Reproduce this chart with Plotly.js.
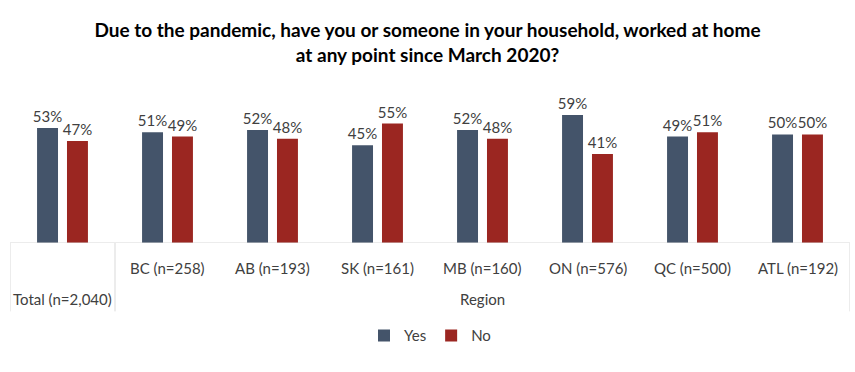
<!DOCTYPE html>
<html>
<head>
<meta charset="utf-8">
<script src="https://cdn.plot.ly/plotly-3.0.1.min.js"></script>
<style>html,body{margin:0;padding:0;background:#fff;}</style>
</head>
<body>
<div id="chart" style="width:855px;height:372px;"></div>
<script>
var categories = ["Total (n=2,040)", "BC (n=258)", "AB (n=193)", "SK (n=161)", "MB (n=160)", "ON (n=576)", "QC (n=500)", "ATL (n=192)"];
var yesValues = [53, 51, 52, 45, 52, 59, 49, 50];
var noValues = [47, 49, 48, 55, 48, 41, 51, 50];
var groupLabel = "Region";
var seriesNames = ["Yes", "No"];

var FONT = "Lato, 'Open Sans', sans-serif";
var idx = categories.map(function(_, i){ return i; });

var traces = [
  {type: "bar", name: seriesNames[0], x: idx, y: yesValues,
   marker: {color: "#44546A"},
   text: yesValues.map(function(v){return v + "%";}), textposition: "outside", constraintext: "none",
   textfont: {family: FONT, size: 15, color: "#404040"}, cliponaxis: false, hoverinfo: "none"},
  {type: "bar", name: seriesNames[1], x: idx, y: noValues,
   marker: {color: "#9B2621"},
   text: noValues.map(function(v){return v + "%";}), textposition: "outside", constraintext: "none",
   textfont: {family: FONT, size: 15, color: "#404040"}, cliponaxis: false, hoverinfo: "none"}
];

var lineStyle = {color: "#d9d9d9", width: 1};
var shapes = [
  {type: "line", xref: "x", yref: "y", x0: -0.5, x1: categories.length - 0.5, y0: 0, y1: 0, line: lineStyle},
  {type: "line", xref: "x", yref: "paper", x0: -0.5, x1: -0.5, y0: 0, y1: -0.45, line: lineStyle},
  {type: "line", xref: "x", yref: "paper", x0: 0.5, x1: 0.5, y0: 0, y1: -0.45, line: lineStyle},
  {type: "line", xref: "x", yref: "paper", x0: categories.length - 0.5, x1: categories.length - 0.5, y0: 0, y1: -0.45, line: lineStyle}
];

var annotations = [];
categories.forEach(function(c, i){
  annotations.push({xref: "x", yref: "paper", x: i, y: i === 0 ? -0.37 : -0.165, text: c,
    showarrow: false, font: {family: FONT, size: 15, color: "#404040"}, xanchor: "center", yanchor: "middle"});
});
annotations.push({xref: "x", yref: "paper", x: (1 + categories.length - 1) / 2, y: -0.37, text: groupLabel,
  showarrow: false, font: {family: FONT, size: 15, color: "#404040"}, xanchor: "center", yanchor: "middle"});

var layout = {
  width: 855, height: 372,
  margin: {l: 10, r: 5, t: 91, b: 129},
  paper_bgcolor: "#fff", plot_bgcolor: "#fff",
  title: {text: "<b>Due to the pandemic, have you or someone in your household, worked at home<br>at any point since March 2020?</b>",
    font: {family: FONT, size: 19, color: "#000"}, x: 0.5, xanchor: "center", y: 0.9, yanchor: "top"},
  barmode: "group", bargap: 0.43, bargroupgap: 0.3,
  xaxis: {type: "linear", range: [-0.5, categories.length - 0.5], showticklabels: false, showgrid: false,
    zeroline: false, showline: false, ticks: "", fixedrange: true},
  yaxis: {range: [0, 70], visible: false, showgrid: false, zeroline: false, fixedrange: true},
  showlegend: true,
  legend: {orientation: "h", x: 0.5, xanchor: "center", y: -0.61, yanchor: "middle",
    font: {family: FONT, size: 15, color: "#404040"}, itemwidth: 30},
  shapes: shapes, annotations: annotations
};

Plotly.newPlot("chart", traces, layout, {displayModeBar: false, staticPlot: true});
</script>
</body>
</html>
